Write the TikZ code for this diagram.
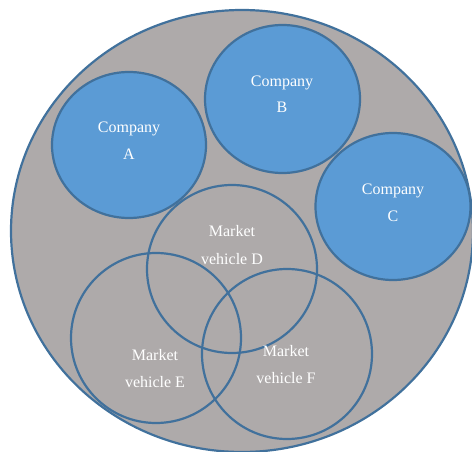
\documentclass[tikz,border=0pt]{standalone}
\usepackage{fontspec}
\setmainfont{Liberation Serif}
\usetikzlibrary{shapes.geometric}
\definecolor{bgray}{HTML}{AEAAAA}
\definecolor{cblue}{HTML}{5B9BD5}
\definecolor{eblue}{HTML}{41719C}
\tikzset{
  outer/.style={ellipse,draw=eblue,line width=2.2pt,fill=bgray,inner sep=0pt},
  company/.style={ellipse,draw=eblue,line width=2.2pt,fill=cblue,inner sep=0pt},
  market/.style={ellipse,draw=eblue,line width=2.2pt,inner sep=0pt},
  lbl/.style={anchor=base,text=white,inner sep=0pt,font=\fontsize{16}{19}\selectfont}
}
\begin{document}
\begin{tikzpicture}[x=1pt,y=-1pt]
\useasboundingbox (0,0) rectangle (472,452);
\clip (0,0) rectangle (472,452);
\node[outer,minimum width=462pt,minimum height=442pt] (big) at (242,231) {};
\node[company,minimum width=154pt,minimum height=146pt] (A) at (129,145) {};
\node[company,minimum width=155pt,minimum height=148pt] (B) at (282.5,99) {};
\node[company,minimum width=155pt,minimum height=147pt] (C) at (393,206.5) {};
\node[market,minimum width=170pt,minimum height=168pt] (D) at (232,269) {};
\node[market,minimum width=170pt,minimum height=170pt] (E) at (156,338) {};
\node[market,minimum width=170pt,minimum height=170pt] (F) at (287,354) {};
\node[lbl] (A1) at (129,133) {Company};
\node[lbl] (A2) at (129,160) {A};
\node[lbl] (B1) at (282,87) {Company};
\node[lbl] (B2) at (282,113) {B};
\node[lbl] (C1) at (393,194) {Company};
\node[lbl] (C2) at (393,222) {C};
\node[lbl] (D1) at (232,236) {Market};
\node[lbl] (D2) at (232,264) {vehicle D};
\node[lbl] (E1) at (155,360) {Market};
\node[lbl] (E2) at (155,387) {vehicle E};
\node[lbl] (F1) at (286,356) {Market};
\node[lbl] (F2) at (286,383) {vehicle F};
\end{tikzpicture}
\end{document}
